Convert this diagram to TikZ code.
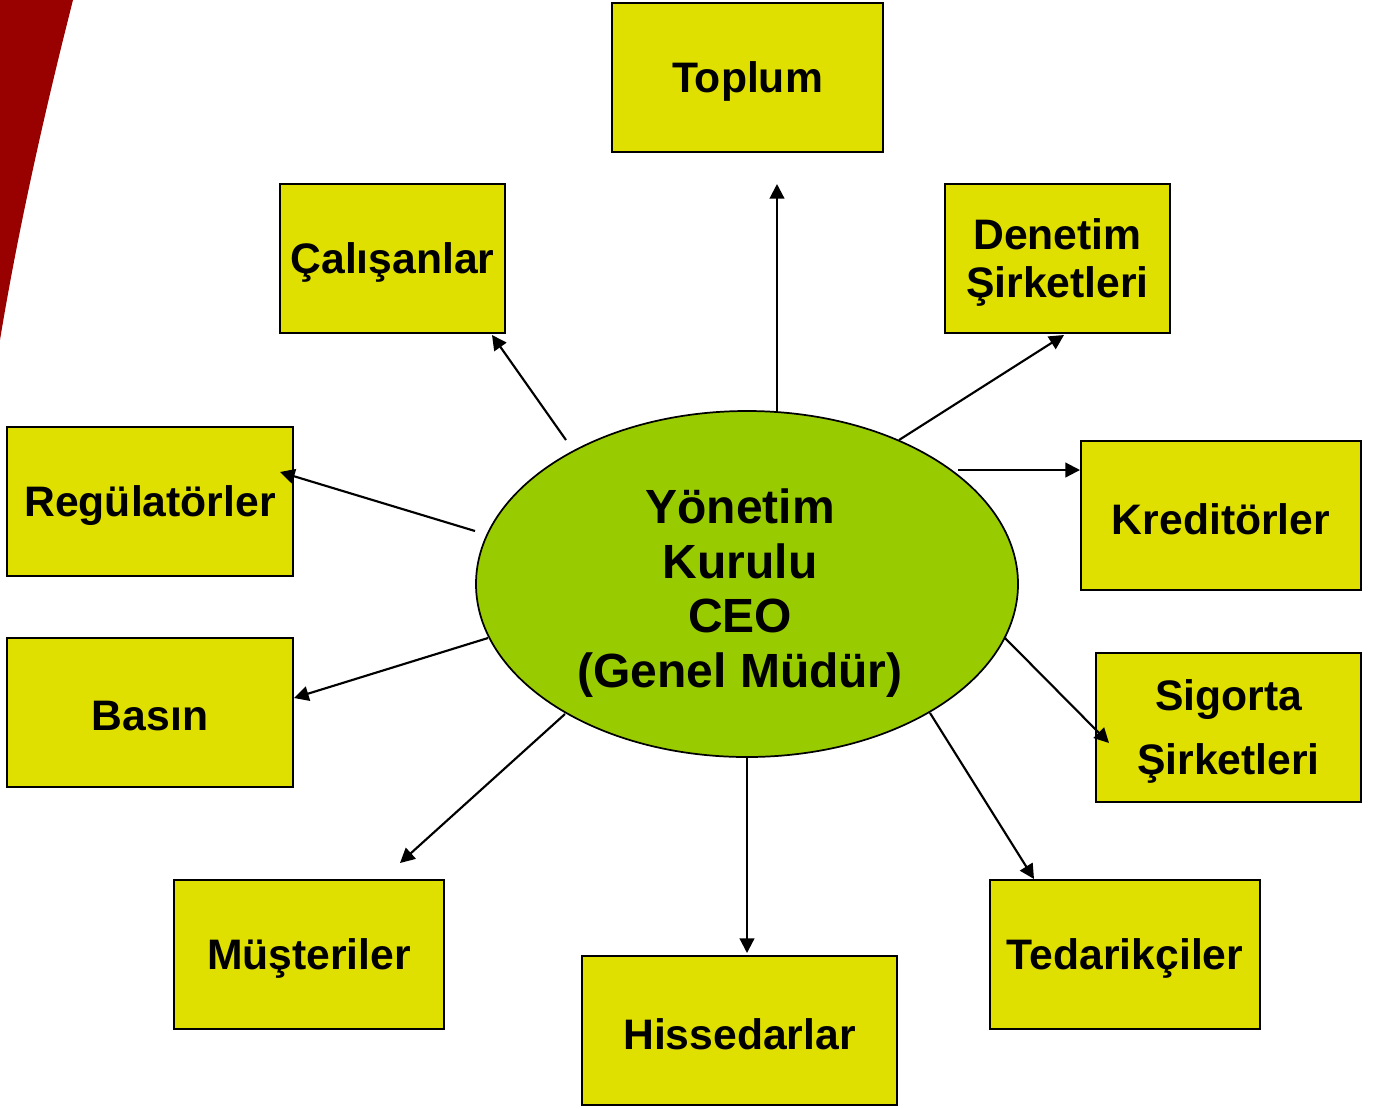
\documentclass[tikz,border=0pt]{standalone}
\usepackage{fontspec}
\setmainfont{Liberation Sans}
\usetikzlibrary{arrows.meta,shapes.geometric}
\definecolor{boxfill}{RGB}{223,223,0}
\definecolor{ceofill}{RGB}{153,204,0}
\definecolor{accent}{RGB}{153,0,0}
\begin{document}
\begin{tikzpicture}[x=0.75pt,y=-0.75pt,
  party/.style={draw=black, line width=1.3pt, fill=boxfill, inner sep=0pt,
    outer sep=0pt, minimum height=111.75pt},
  partytext/.style={align=center, inner sep=0pt, yshift=-3pt,
    font=\fontsize{32}{36}\selectfont\bfseries},
  board/.style={draw=black, line width=1.3pt, fill=ceofill, ellipse,
    inner sep=0pt, minimum width=406.5pt, minimum height=259.5pt},
  boardtext/.style={align=center, inner sep=0pt,
    font=\fontsize{36}{41}\selectfont\bfseries},
  link/.style={line width=1.6pt, -{Triangle[length=11pt,width=11pt]}}]

% page frame
\useasboundingbox (0,0) rectangle (1383,1108);
\fill[white] (0,0) rectangle (1383,1108);

% red swoosh on the left edge
\fill[accent] (0,0) -- (73,0) .. controls (45,110) and (18,230) .. (0,340) -- cycle;

% stakeholder boxes
\node[party, minimum width=203.25pt] (toplum) at (747.5,77.5) {};
\node[party, minimum width=168.75pt] (calisan) at (392.5,258.5) {};
\node[party, minimum width=168.75pt] (denetim) at (1057.5,258.5) {};
\node[party, minimum width=214.5pt] (regul) at (150,501.5) {};
\node[party, minimum width=210pt] (kredi) at (1221,515.5) {};
\node[party, minimum width=214.5pt] (basin) at (150,712.5) {};
\node[party, minimum width=198.75pt] (sigorta) at (1228.5,727.5) {};
\node[party, minimum width=202.5pt] (musteri) at (309,954.5) {};
\node[party, minimum width=236.25pt] (hisse) at (739.5,1030.5) {};
\node[party, minimum width=202.5pt] (tedarik) at (1125,954.5) {};

% stakeholder names
\node[partytext] (toplumT) at (toplum) {Toplum};
\node[partytext] (calisanT) at (calisan) {Çalışanlar};
\node[partytext] (denetimT) at (denetim) {Denetim\\Şirketleri};
\node[partytext] (regulT) at (regul) {Regülatörler};
\node[partytext] (krediT) at (kredi) {Kreditörler};
\node[partytext] (basinT) at (basin) {Basın};
\node[partytext] (sigortaT) at (sigorta) {Sigorta\\[12pt]Şirketleri};
\node[partytext] (musteriT) at (musteri) {Müşteriler};
\node[partytext] (hisseT) at (hisse) {Hissedarlar};
\node[partytext] (tedarikT) at (tedarik) {Tedarikçiler};

% board / CEO in the middle
\node[board] (ceo) at (747,584) {};
\node[boardtext] (ceolabel) at (740,593) {Yönetim\\Kurulu\\CEO\\(Genel Müdür)};

% connector ends
\coordinate (sToplum) at (777,411);   \coordinate (eToplum) at (777,184);
\coordinate (sCalisan) at (566,440);  \coordinate (eCalisan) at (492,335);
\coordinate (sDenetim) at (899,440);  \coordinate (eDenetim) at (1064,335);
\coordinate (sRegul) at (475,531);    \coordinate (eRegul) at (280,472);
\coordinate (sKredi) at (958,470);    \coordinate (eKredi) at (1080,470);
\coordinate (sBasin) at (488,638);    \coordinate (eBasin) at (294,698);
\coordinate (sSigorta) at (1005,638); \coordinate (eSigorta) at (1109,743);
\coordinate (sMusteri) at (565,714);  \coordinate (eMusteri) at (400,863);
\coordinate (sHisse) at (747,757);    \coordinate (eHisse) at (747,953);
\coordinate (sTedarik) at (930,713);  \coordinate (eTedarik) at (1034,879);

% connectors from the board outwards
\draw[link] (sToplum) -- (eToplum);
\draw[link] (sCalisan) -- (eCalisan);
\draw[link] (sDenetim) -- (eDenetim);
\draw[link] (sRegul) -- (eRegul);
\draw[link] (sKredi) -- (eKredi);
\draw[link] (sBasin) -- (eBasin);
\draw[link] (sSigorta) -- (eSigorta);
\draw[link] (sMusteri) -- (eMusteri);
\draw[link] (sHisse) -- (eHisse);
\draw[link] (sTedarik) -- (eTedarik);
\end{tikzpicture}
\end{document}
